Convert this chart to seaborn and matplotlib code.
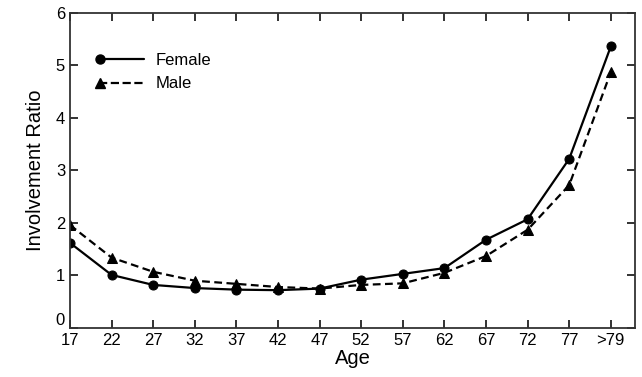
import pandas as pd
import matplotlib
matplotlib.use("Agg")
import matplotlib.pyplot as plt
from matplotlib.lines import Line2D
from matplotlib.legend_handler import HandlerBase
import seaborn as sns

# values
age_labels = ["17", "22", "27", "32", "37", "42", "47", "52", "57", "62", "67", "72", "77", ">79"]
female = [1.62, 1.01, 0.82, 0.76, 0.73, 0.72, 0.75, 0.92, 1.03, 1.14, 1.68, 2.07, 3.22, 5.36]
male = [1.96, 1.34, 1.07, 0.90, 0.84, 0.78, 0.75, 0.82, 0.85, 1.05, 1.37, 1.87, 2.72, 4.87]

df = pd.DataFrame({
    "pos": list(range(len(age_labels))) * 2,
    "ratio": female + male,
    "sex": ["Female"] * len(female) + ["Male"] * len(male),
})


# legend handle with the marker at the left end of the line
class LeftMarkerHandler(HandlerBase):
    def create_artists(self, legend, orig_handle, xdescent, ydescent,
                       width, height, fontsize, trans):
        y = height / 2 - ydescent
        x0 = -xdescent
        line = Line2D([x0, x0 + width], [y, y], color="black",
                      linewidth=orig_handle.get_linewidth(),
                      linestyle=orig_handle.get_linestyle())
        mark = Line2D([x0 + 1], [y], color="black", linestyle="None",
                      marker=orig_handle.get_marker(),
                      markersize=orig_handle.get_markersize(),
                      markeredgecolor="black")
        for a in (line, mark):
            a.set_transform(trans)
        return [line, mark]


sns.set_style("ticks")
plt.rcParams.update({
    "font.family": ["Liberation Sans", "DejaVu Sans"],
    "text.color": "black",
    "axes.labelcolor": "black",
})

fig, ax = plt.subplots(figsize=(6.42, 3.77), dpi=100)
fig.subplots_adjust(left=0.109, right=0.989, bottom=0.130, top=0.966)

sns.lineplot(data=df, x="pos", y="ratio", style="sex",
             markers={"Female": "o", "Male": "^"},
             dashes={"Female": "", "Male": (3.5, 2)},
             color="black", linewidth=1.6, markersize=6.5,
             markeredgecolor="black", ax=ax)

ax.set_xlim(0, 13.58)
ax.set_ylim(0, 6)
ax.set_xticks(range(len(age_labels)))
ax.set_xticklabels(age_labels)
ax.set_yticks(range(7))
ax.set_yticklabels(["", "1", "2", "3", "4", "5", "6"])
ax.text(-0.12, 0.0, "0", ha="right", va="bottom", fontsize=12, color="black")
ax.tick_params(axis="both", which="major", direction="in", length=6, width=1.3,
               color="#222222", top=True, right=True, labelsize=12, labelcolor="black")
for s in ax.spines.values():
    s.set_linewidth(1.3)
    s.set_color("#333333")

ax.set_xlabel("Age", fontsize=14.5, labelpad=1)
ax.set_ylabel("Involvement Ratio", fontsize=14.5, labelpad=8)

handles, labels = ax.get_legend_handles_labels()
ax.legend(handles, labels, loc="upper left", bbox_to_anchor=(0.025, 0.92), frameon=False,
          fontsize=12, handlelength=2.7, handletextpad=0.7, labelspacing=0.5,
          handler_map={h: LeftMarkerHandler() for h in handles})

fig.savefig("out.png", dpi=100)
